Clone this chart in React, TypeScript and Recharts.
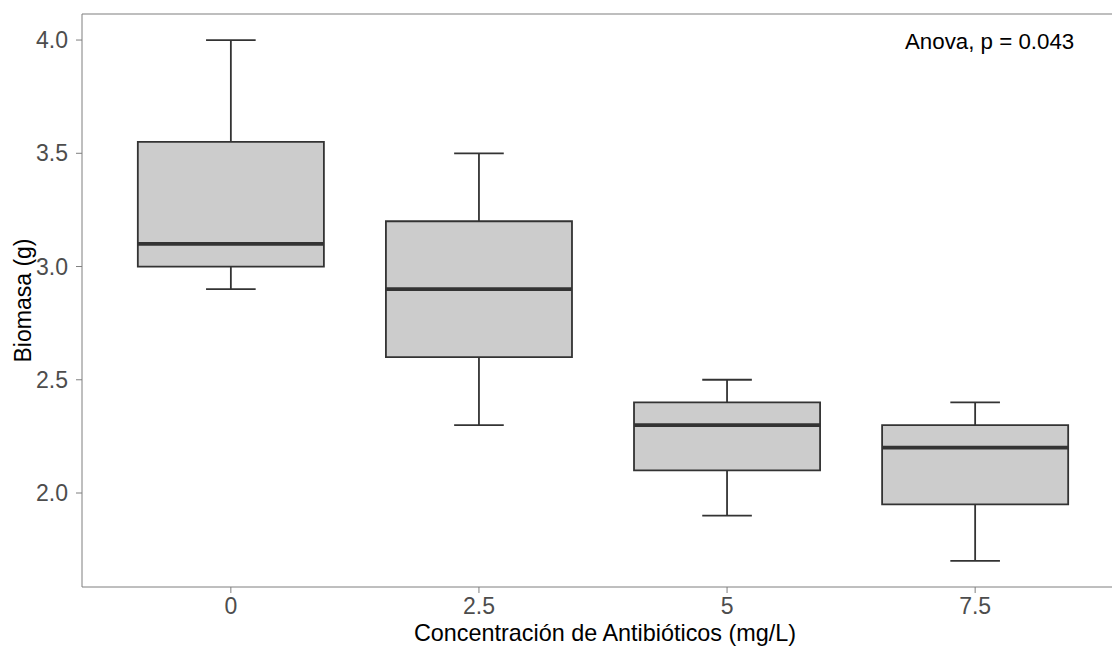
import React from 'react'
import {
  ComposedChart,
  Scatter,
  XAxis,
  YAxis,
  ReferenceArea,
  ReferenceLine,
} from 'recharts'

// concentrations (mg/L) and box statistics of biomass (g)
const categories = ['0', '2.5', '5', '7.5']
const whiskerLow = [2.9, 2.3, 1.9, 1.7]
const q1 = [3.0, 2.6, 2.1, 1.95]
const median = [3.1, 2.9, 2.3, 2.2]
const q3 = [3.55, 3.2, 2.4, 2.3]
const whiskerHigh = [4.0, 3.5, 2.5, 2.4]
const yTicks = [2.0, 2.5, 3.0, 3.5, 4.0]

const Y_MIN = 1.585
const Y_MAX = 4.115
const BOX_HALF = 0.375
const CAP_HALF = 0.1

const FONT = '"Liberation Sans", Arial, sans-serif'
const INK = '#333333'

const rows = categories.map((c, i) => ({ x: i, label: c, median: median[i] }))

export default function App() {
  return (
    <div
      style={{
        position: 'absolute',
        left: 0,
        top: 0,
        width: 1112,
        height: 646,
        overflow: 'hidden',
        background: '#fff',
        fontFamily: FONT,
      }}
    >
      <ComposedChart
        width={1130}
        height={646}
        data={rows}
        margin={{ top: 14, right: 6, bottom: 0, left: 0 }}
      >
        <XAxis
          type="number"
          dataKey="x"
          domain={[-0.6, 3.6]}
          ticks={[0, 1, 2, 3]}
          tickFormatter={(v: number) => categories[v]}
          allowDataOverflow
          height={59}
          stroke="#7f7f7f"
          tickSize={6}
          tickMargin={5}
          tick={{ fill: '#4d4d4d', fontSize: 23, fontFamily: FONT }}
          label={{
            content: (props: any) => {
              const vb = props.viewBox
              return (
                <text
                  x={vb.x + vb.width / 2 + 2}
                  y={641}
                  textAnchor="middle"
                  fontSize={23.4}
                  fontFamily={FONT}
                  fill="#000"
                >
                  Concentración de Antibióticos (mg/L)
                </text>
              )
            },
          }}
        />
        <YAxis
          type="number"
          domain={[Y_MIN, Y_MAX]}
          ticks={yTicks}
          tickFormatter={(v: number) => v.toFixed(1)}
          allowDataOverflow
          width={82}
          stroke="#7f7f7f"
          tickSize={6}
          tickMargin={8}
          tick={{ fill: '#4d4d4d', fontSize: 23, fontFamily: FONT }}
          label={{
            content: (props: any) => {
              const vb = props.viewBox
              const cx = 23
              const cy = vb.y + vb.height / 2
              return (
                <text
                  x={cx}
                  y={cy}
                  transform={`rotate(-90 ${cx} ${cy})`}
                  textAnchor="middle"
                  dominantBaseline="central"
                  fontSize={23}
                  fontFamily={FONT}
                  fill="#000"
                >
                  Biomasa (g)
                </text>
              )
            },
          }}
        />

        {/* top panel border */}
        <ReferenceLine y={Y_MAX} stroke="#7f7f7f" strokeWidth={1.2} />

        {/* whiskers and caps */}
        {categories.map((c, i) => (
          <ReferenceLine
            key={`wh-${c}`}
            segment={[{ x: i, y: q3[i] }, { x: i, y: whiskerHigh[i] }]}
            stroke={INK}
            strokeWidth={1.8}
          />
        ))}
        {categories.map((c, i) => (
          <ReferenceLine
            key={`wl-${c}`}
            segment={[{ x: i, y: whiskerLow[i] }, { x: i, y: q1[i] }]}
            stroke={INK}
            strokeWidth={1.8}
          />
        ))}
        {categories.map((c, i) => (
          <ReferenceLine
            key={`ch-${c}`}
            segment={[
              { x: i - CAP_HALF, y: whiskerHigh[i] },
              { x: i + CAP_HALF, y: whiskerHigh[i] },
            ]}
            stroke={INK}
            strokeWidth={1.8}
          />
        ))}
        {categories.map((c, i) => (
          <ReferenceLine
            key={`cl-${c}`}
            segment={[
              { x: i - CAP_HALF, y: whiskerLow[i] },
              { x: i + CAP_HALF, y: whiskerLow[i] },
            ]}
            stroke={INK}
            strokeWidth={1.8}
          />
        ))}

        {/* boxes */}
        {categories.map((c, i) => (
          <ReferenceArea
            key={`box-${c}`}
            x1={i - BOX_HALF}
            x2={i + BOX_HALF}
            y1={q1[i]}
            y2={q3[i]}
            fill="#cccccc"
            fillOpacity={1}
            stroke={INK}
            strokeWidth={1.8}
          />
        ))}

        {/* medians */}
        {categories.map((c, i) => (
          <ReferenceLine
            key={`med-${c}`}
            segment={[
              { x: i - BOX_HALF, y: median[i] },
              { x: i + BOX_HALF, y: median[i] },
            ]}
            stroke={INK}
            strokeWidth={3.8}
          />
        ))}

        <Scatter dataKey="median" isAnimationActive={false} shape={() => <g />} />
      </ComposedChart>

      <div
        style={{
          position: 'absolute',
          left: 905,
          top: 31,
          fontSize: 22.3,
          lineHeight: 1,
          color: '#000',
          whiteSpace: 'nowrap',
        }}
      >
        Anova, p = 0.043
      </div>
    </div>
  )
}
